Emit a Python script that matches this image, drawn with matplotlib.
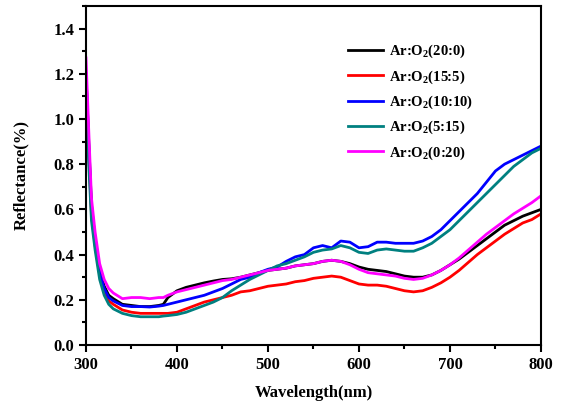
import matplotlib
matplotlib.use('Agg')
import matplotlib.pyplot as plt
from matplotlib.ticker import MultipleLocator

plt.rcParams['font.family'] = 'Liberation Serif'
plt.rcParams['font.weight'] = 'bold'
plt.rcParams['mathtext.fontset'] = 'custom'
plt.rcParams['mathtext.rm'] = 'Liberation Serif:bold'
plt.rcParams['mathtext.bf'] = 'Liberation Serif:bold'
plt.rcParams['mathtext.default'] = 'bf'

wavelength = [300, 303, 306, 310, 315, 320, 325, 330, 340, 350,
              360, 370, 380, 385, 390, 400, 410, 420, 430, 440,
              450, 460, 470, 480, 490, 500, 510, 520, 530, 540,
              550, 560, 570, 580, 590, 600, 610, 620, 630, 640,
              650, 660, 670, 680, 690, 700, 710, 720, 730, 740,
              750, 760, 770, 780, 790, 800]

r_20_0 = [1.20, 0.90, 0.62, 0.47, 0.33, 0.26, 0.22, 0.205, 0.18, 0.175,
          0.17, 0.17, 0.175, 0.18, 0.21, 0.24, 0.255, 0.265, 0.275, 0.283,
          0.29, 0.293, 0.30, 0.31, 0.32, 0.33, 0.335, 0.34, 0.35, 0.355,
          0.36, 0.37, 0.375, 0.37, 0.36, 0.345, 0.335, 0.33, 0.325, 0.315,
          0.305, 0.30, 0.30, 0.31, 0.33, 0.355, 0.38, 0.41, 0.44, 0.47,
          0.50, 0.53, 0.55, 0.57, 0.585, 0.60]

r_15_5 = [1.15, 0.85, 0.58, 0.44, 0.31, 0.24, 0.195, 0.18, 0.155, 0.145,
          0.14, 0.14, 0.14, 0.14, 0.14, 0.145, 0.16, 0.175, 0.19, 0.20,
          0.21, 0.22, 0.235, 0.24, 0.25, 0.26, 0.265, 0.27, 0.28, 0.285,
          0.295, 0.30, 0.305, 0.30, 0.285, 0.27, 0.265, 0.265, 0.26, 0.25,
          0.24, 0.235, 0.24, 0.255, 0.275, 0.30, 0.33, 0.365, 0.40, 0.43,
          0.46, 0.49, 0.515, 0.54, 0.555, 0.58]

r_10_10 = [1.20, 0.88, 0.60, 0.45, 0.32, 0.25, 0.21, 0.195, 0.175, 0.17,
           0.17, 0.168, 0.172, 0.175, 0.18, 0.19, 0.20, 0.21, 0.22, 0.235,
           0.25, 0.27, 0.29, 0.30, 0.32, 0.335, 0.345, 0.37, 0.39, 0.40,
           0.43, 0.44, 0.43, 0.46, 0.455, 0.43, 0.435, 0.455, 0.455, 0.45,
           0.45, 0.45, 0.46, 0.48, 0.51, 0.55, 0.59, 0.63, 0.67, 0.72,
           0.77, 0.80, 0.82, 0.84, 0.86, 0.88]

r_5_15 = [1.10, 0.80, 0.55, 0.42, 0.29, 0.22, 0.18, 0.16, 0.14, 0.13,
          0.125, 0.125, 0.125, 0.128, 0.13, 0.135, 0.145, 0.16, 0.175, 0.19,
          0.21, 0.24, 0.265, 0.29, 0.31, 0.33, 0.35, 0.36, 0.375, 0.39,
          0.41, 0.42, 0.425, 0.44, 0.43, 0.41, 0.405, 0.42, 0.425, 0.42,
          0.415, 0.415, 0.43, 0.45, 0.48, 0.51, 0.55, 0.59, 0.63, 0.67,
          0.71, 0.75, 0.79, 0.82, 0.85, 0.87]

r_0_20 = [1.27, 0.95, 0.65, 0.50, 0.36, 0.29, 0.25, 0.23, 0.205, 0.21,
          0.21, 0.205, 0.21, 0.21, 0.22, 0.235, 0.245, 0.255, 0.265, 0.275,
          0.285, 0.29, 0.30, 0.31, 0.32, 0.33, 0.335, 0.34, 0.35, 0.355,
          0.36, 0.37, 0.375, 0.37, 0.355, 0.335, 0.32, 0.315, 0.31, 0.305,
          0.295, 0.29, 0.295, 0.31, 0.33, 0.355, 0.385, 0.42, 0.455, 0.49,
          0.52, 0.55, 0.58, 0.605, 0.63, 0.66]

# end of scan: the magenta trace shoots up along the right edge
end_x = [800, 800]
end_0_20 = [0.66, 1.6]
end_15_5 = [0.58, 0.65]

series = [
    (r_20_0, '#000000', r'Ar:O$_2$(20:0)'),
    (r_15_5, '#ff0000', r'Ar:O$_2$(15:5)'),
    (r_10_10, '#0000ff', r'Ar:O$_2$(10:10)'),
    (r_5_15, '#008080', r'Ar:O$_2$(5:15)'),
    (r_0_20, '#ff00ff', r'Ar:O$_2$(0:20)'),
]

fig = plt.figure(figsize=(5.61, 4.08), dpi=100)
ax = fig.add_axes([0.1533, 0.1544, 0.811, 0.831])

for values, color, label in series:
    ax.plot(wavelength, values, color=color, lw=2, label=label)
ax.plot(end_x, end_15_5, color='#ff0000', lw=2)
ax.plot(end_x, end_0_20, color='#ff00ff', lw=2)

ax.set_xlim(300, 800)
ax.set_ylim(0, 1.5)
ax.xaxis.set_major_locator(MultipleLocator(100))
ax.xaxis.set_minor_locator(MultipleLocator(50))
ax.yaxis.set_major_locator(MultipleLocator(0.2))
ax.yaxis.set_minor_locator(MultipleLocator(0.1))
ax.yaxis.set_major_formatter(plt.FuncFormatter(lambda v, p: '%.1f' % v))
ax.tick_params(which='both', direction='out', top=False, right=False,
               width=1.5, labelsize=12)
ax.tick_params(which='major', length=5)
ax.tick_params(which='minor', length=3)
for s in ax.spines.values():
    s.set_linewidth(1.5)

ax.set_xlabel('Wavelength(nm)', fontsize=12, fontweight='bold', labelpad=9)
ax.set_ylabel('Reflectance(%)', fontsize=12, fontweight='bold', labelpad=17)

leg = ax.legend(loc='upper left', bbox_to_anchor=(0.548, 0.93), frameon=False,
                fontsize=10.5, handlelength=2.4, handletextpad=0.4,
                labelspacing=0.55)

fig.savefig('out.png', dpi=100)
